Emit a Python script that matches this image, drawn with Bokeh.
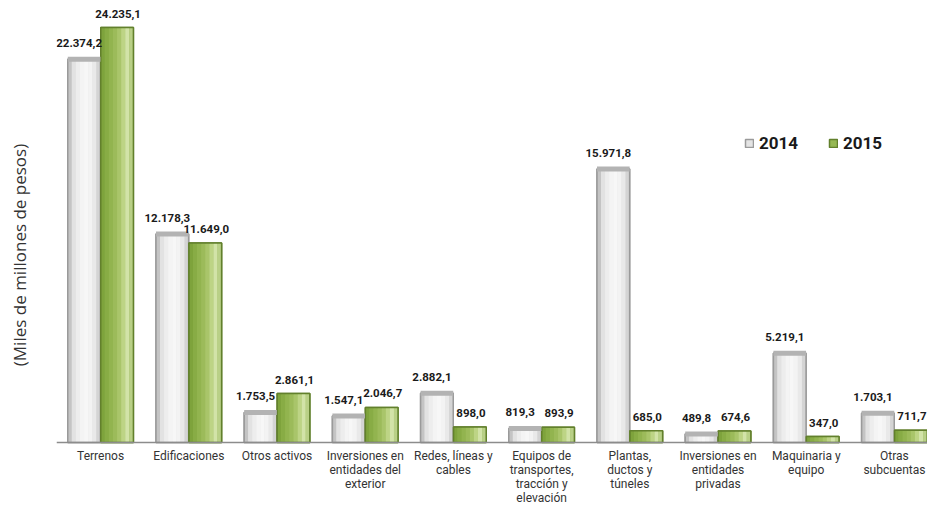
from bokeh.plotting import figure
from bokeh.models import Range1d, ColumnDataSource, Legend, LegendItem, Span, FixedTicker
from bokeh.core.properties import value
from bokeh.embed import file_html
from bokeh.resources import INLINE

categories = [
    "Terrenos",
    "Edificaciones",
    "Otros activos",
    "Inversiones en\nentidades del\nexterior",
    "Redes, líneas y\ncables",
    "Equipos de\ntransportes,\ntracción y\nelevación",
    "Plantas,\nductos y\ntúneles",
    "Inversiones en\nentidades\nprivadas",
    "Maquinaria y\nequipo",
    "Otras\nsubcuentas",
]
years = ["2014", "2015"]
v2014 = [22374.2, 12178.3, 1753.5, 1547.1, 2882.1, 819.3, 15971.8, 489.8, 5219.1, 1703.1]
v2015 = [24235.1, 11649.0, 2861.1, 2046.7, 898.0, 893.9, 685.0, 674.6, 347.0, 711.7]
y_label = "(Miles de millones de pesos)"


def fmt(v):
    s = f"{v:,.1f}"
    return s.replace(",", "X").replace(".", ",").replace("X", ".")


BW = 0.37    # bar width (category units)
OFF = 0.187  # bar offset from category centre
N = 8        # slices used to imitate the gradient fill

centres = [i + 0.5 for i in range(len(categories))]
src = ColumnDataSource(dict(
    cat=categories,
    xc=centres,
    x14=[c - OFF for c in centres],
    x15=[c + OFF for c in centres],
    zero=[0] * len(categories),
    v2014=v2014,
    v2015=v2015,
    l2014=[fmt(v) for v in v2014],
    l2015=[fmt(v) for v in v2015],
))

p = figure(
    width=927, height=509,
    x_range=Range1d(0, 9.875),
    y_range=Range1d(-3913, 25812),
    output_backend="svg", toolbar_location=None,
    min_border_left=56, min_border_right=0, min_border_top=0, min_border_bottom=0,
)
p.outline_line_color = None
p.xgrid.grid_line_color = None
p.ygrid.grid_line_color = None
p.xaxis.visible = False

ya = p.yaxis[0]
ya.ticker = FixedTicker(ticks=[])
ya.axis_line_color = None
ya.major_tick_line_color = None
ya.minor_tick_line_color = None
ya.major_tick_out = 0
ya.major_label_standoff = 0
ya.axis_label = y_label
ya.axis_label_text_font = "Open Sans"
ya.axis_label_text_font_style = "normal"
ya.axis_label_text_font_size = "17px"
ya.axis_label_text_color = "#333333"
ya.axis_label_standoff = 26

gray_cols = ["#c4c4c4", "#e2e2e2", "#ededed", "#f4f4f4", "#f7f7f7", "#f3f3f3", "#e9e9e9", "#d4d4d4"]
green_cols = ["#7ea33c", "#88ac45", "#92b44f", "#9cbb5a", "#a9c56a", "#bdd485", "#d2e3a8", "#b9d087"]

legend_r = {}
for xkey, key, cols, base, edge in (("x14", "v2014", gray_cols, "#e4e4e4", "#9a9a9a"),
                                    ("x15", "v2015", green_cols, "#96b854", "#62802c")):
    legend_r[key] = p.vbar(x=xkey, top=key, width=BW, bottom=0, source=src,
                           fill_color=base, line_color=edge, line_width=1.5)
    sw = BW / N
    for i in range(N):
        xs = [x - BW / 2 + (i + 0.5) * sw for x in src.data[xkey]]
        p.vbar(x=xs, top=src.data[key], width=sw * 1.03, bottom=0,
               fill_color=cols[i], line_color=None)
    p.vbar(x=xkey, top=key, width=BW, bottom=0, source=src,
           fill_alpha=0, line_color=edge, line_width=1.5)

# grey "3D" top cap of the 2014 bars
p.rect(x="x14", y="v2014", width=BW, height=5, height_units="screen", source=src,
       fill_color="#b3b3b3", line_color=None)

# baseline
p.add_layout(Span(location=0, dimension="width", line_color="#8c8c8c", line_width=1.5))

# value labels
p.text(x="x14", y="v2014", text="l2014", source=src, x_offset=-5, y_offset=-16,
       text_align="center", text_baseline="middle",
       text_font=value("Roboto"), text_font_style="bold", text_font_size="11.5px", text_color="#1a1a1a")
p.text(x="x15", y="v2015", text="l2015", source=src, x_offset=1, y_offset=-14,
       text_align="center", text_baseline="middle",
       text_font=value("Roboto"), text_font_style="bold", text_font_size="11.5px", text_color="#1a1a1a")

# category labels under the baseline
p.text(x="xc", y="zero", text="cat", source=src, y_offset=7,
       text_align="center", text_baseline="top", text_line_height=1.0,
       text_font=value("Roboto"), text_font_size="12px", text_color="#333333")

# legend
legend = Legend(
    items=[LegendItem(label=years[0], renderers=[legend_r["v2014"]]),
           LegendItem(label=years[1], renderers=[legend_r["v2015"]])],
    orientation="horizontal", location=(688, 356),
    border_line_color=None, background_fill_alpha=0,
    label_text_font="Roboto", label_text_font_style="bold", label_text_font_size="17px",
    label_text_color="#1a1a1a", glyph_width=10, glyph_height=10, label_standoff=5,
    spacing=30, padding=0, margin=0,
)
p.add_layout(legend)

open("out.html", "w").write(file_html(p, INLINE))
